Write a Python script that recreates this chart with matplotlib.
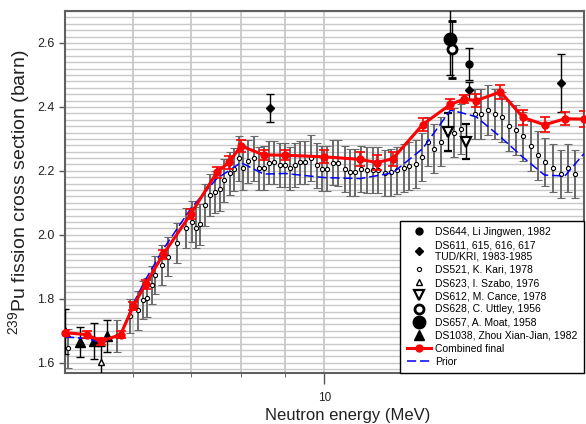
import matplotlib
matplotlib.use("Agg")
import matplotlib.pyplot as plt
from matplotlib.lines import Line2D
from matplotlib.ticker import FixedLocator, FixedFormatter, NullFormatter, MultipleLocator

plt.rcParams['font.family'] = ['Liberation Sans', 'DejaVu Sans']
plt.rcParams['mathtext.default'] = 'regular'

# ---- Combined final evaluation and prior ----
energy = [5.0, 5.3, 5.5, 5.8, 6.0, 6.2, 6.5, 7.0, 7.5, 7.75, 8.0, 8.5, 9.0,
          10.0, 11.0, 11.5, 12.0, 13.0, 14.0, 14.5, 15.0, 16.0, 17.0, 18.0, 19.0, 20.0]
combined = [1.694, 1.688, 1.667, 1.688, 1.777, 1.846, 1.939, 2.066, 2.195, 2.227, 2.278,
            2.250, 2.249, 2.244, 2.236, 2.226, 2.238, 2.345, 2.408, 2.424, 2.420, 2.447,
            2.367, 2.344, 2.363, 2.362]
combined_err = [0.010, 0.010, 0.010, 0.012, 0.012, 0.014, 0.015, 0.015, 0.017, 0.020, 0.020,
                0.016, 0.016, 0.020, 0.022, 0.023, 0.022, 0.020, 0.016, 0.012, 0.020, 0.021,
                0.023, 0.023, 0.020, 0.024]
prior = [1.681, 1.676, 1.663, 1.688, 1.785, 1.860, 1.955, 2.083, 2.176, 2.201, 2.226,
         2.190, 2.192, 2.179, 2.176, 2.185, 2.194, 2.270, 2.390, 2.380, 2.369, 2.306,
         2.242, 2.187, 2.184, 2.254]

# ---- DS521, K. Kari, 1978 ----
kari_e = [5.04, 5.74, 5.95, 6.07, 6.15, 6.22, 6.30, 6.36, 6.48, 6.59, 6.75, 6.90, 7.01,
          7.09, 7.17, 7.26, 7.36, 7.46, 7.56, 7.65, 7.76, 7.86, 7.96, 8.05, 8.16, 8.28,
          8.39, 8.50, 8.62, 8.73, 8.87, 8.99, 9.11, 9.25, 9.37, 9.50, 9.64, 9.79, 9.93,
          10.08, 10.24, 10.38, 10.55, 10.71, 10.86, 11.03, 11.20, 11.38, 11.55, 11.75,
          11.95, 12.15, 12.35, 12.54, 12.77, 12.97, 13.18, 13.40, 13.66, 14.14, 14.39,
          14.93, 15.17, 15.47, 15.77, 16.06, 16.37, 16.66, 17.00, 17.34, 17.68, 18.02,
          18.40, 18.79, 19.15, 19.55]
kari_v = [1.645, 1.685, 1.746, 1.764, 1.796, 1.804, 1.843, 1.874, 1.905, 1.932, 1.975,
          2.022, 2.041, 2.022, 2.033, 2.093, 2.124, 2.133, 2.142, 2.171, 2.192, 2.205,
          2.239, 2.209, 2.230, 2.239, 2.208, 2.209, 2.226, 2.227, 2.219, 2.219, 2.208,
          2.218, 2.227, 2.227, 2.240, 2.217, 2.207, 2.207, 2.226, 2.226, 2.207, 2.195,
          2.195, 2.205, 2.204, 2.204, 2.204, 2.194, 2.195, 2.202, 2.209, 2.215, 2.222,
          2.244, 2.291, 2.270, 2.291, 2.319, 2.331, 2.377, 2.379, 2.390, 2.379, 2.368,
          2.340, 2.329, 2.308, 2.278, 2.249, 2.228, 2.209, 2.190, 2.209, 2.190]
kari_err = [0.060, 0.050, 0.053, 0.060, 0.060, 0.060, 0.060, 0.060, 0.062, 0.062, 0.063,
            0.063, 0.064, 0.064, 0.064, 0.065, 0.066, 0.066, 0.066, 0.067, 0.068, 0.068,
            0.070, 0.068, 0.068, 0.070, 0.068, 0.068, 0.068, 0.068, 0.068, 0.068, 0.068,
            0.068, 0.068, 0.068, 0.072, 0.070, 0.070, 0.070, 0.070, 0.072, 0.072, 0.072,
            0.072, 0.072, 0.072, 0.072, 0.072, 0.072, 0.072, 0.074, 0.074, 0.074, 0.075,
            0.075, 0.076, 0.076, 0.076, 0.077, 0.077, 0.078, 0.078, 0.078, 0.078, 0.078,
            0.078, 0.078, 0.077, 0.077, 0.077, 0.076, 0.076, 0.076, 0.076, 0.076]

# ---- other data sets ----
li_e, li_v, li_err = [14.7], [2.533], [0.050]                      # DS644
tud_e, tud_v, tud_err = [8.65, 14.7, 18.8], [2.397, 2.452, 2.475], [0.044, 0.026, 0.090]  # DS611..617
szabo_e, szabo_v, szabo_err = [5.5], [1.601], [0.050]              # DS623
cance_e, cance_v, cance_err = [13.9, 14.6], [2.322, 2.291], [0.060, 0.055]  # DS612
uttley_e, uttley_v, uttley_err = [14.07], [2.580], [0.088]         # DS628
moat_e, moat_v, moat_err = [14.0], [2.611], [0.110]                # DS657
zhou_e, zhou_v, zhou_err = [5.0, 5.2, 5.4, 5.6], [1.697, 1.666, 1.668, 1.684], [0.070, 0.047, 0.057, 0.050]  # DS1038

legend_labels = ["DS644, Li Jingwen, 1982",
                 "DS611, 615, 616, 617\nTUD/KRI, 1983-1985",
                 "DS521, K. Kari, 1978",
                 "DS623, I. Szabo, 1976",
                 "DS612, M. Cance, 1978",
                 "DS628, C. Uttley, 1956",
                 "DS657, A. Moat, 1958",
                 "DS1038, Zhou Xian-Jian, 1982",
                 "Combined final",
                 "Prior"]

y_ticks = [1.6, 1.8, 2.0, 2.2, 2.4, 2.6]

fig = plt.figure(figsize=(5.86, 4.24), dpi=100)
ax = fig.add_axes([65 / 586, 51 / 424, 519 / 586, 362 / 424])
ax.set_xscale('log')
ax.set_xlim(5, 20)
ax.set_ylim(1.568, 2.70)

# grid
grid_col = '#c8c8c8'
ax.xaxis.set_major_locator(FixedLocator([10]))
ax.xaxis.set_major_formatter(FixedFormatter(['10']))
ax.xaxis.set_minor_locator(FixedLocator([6, 7, 8, 9]))
ax.xaxis.set_minor_formatter(NullFormatter())
ax.yaxis.set_major_locator(FixedLocator(y_ticks))
ax.yaxis.set_major_formatter(FixedFormatter([f"{t:.1f}" for t in y_ticks]))
ax.yaxis.set_minor_locator(MultipleLocator(0.02))
ax.grid(True, which='both', axis='x', color=grid_col, lw=1.3, zorder=0)
ax.grid(True, which='both', axis='y', color=grid_col, lw=1.0, zorder=0)
ax.set_axisbelow(True)

ax.tick_params(axis='y', which='major', labelsize=9, colors='#555555',
               labelcolor='#222222', length=4, width=1)
ax.tick_params(axis='y', which='minor', length=0)
ax.tick_params(axis='x', which='minor', length=3, colors='#555555')
ax.tick_params(axis='x', which='major', direction='out', length=8, width=1,
               colors='#555555', labelcolor='#222222', labelsize=8.5, pad=6)
for s in ax.spines.values():
    s.set_color('#606060')
    s.set_linewidth(1.5)


def black_caps(container):
    for cap in container[1]:
        cap.set_color('black')


# K. Kari points: grey bars, black caps, open circles
eb = ax.errorbar(kari_e, kari_v, yerr=kari_err, fmt='o', ms=3.0, mfc='white', mec='black',
                 mew=0.8, ecolor='#6a6a6a', elinewidth=1.4, capsize=3, capthick=1, zorder=3)
black_caps(eb)

bk = dict(ecolor='black', elinewidth=1, capsize=3, capthick=1, zorder=4, ls='none')
ax.errorbar(li_e, li_v, yerr=li_err, marker='o', ms=5, color='black', **bk)
ax.errorbar(tud_e, tud_v, yerr=tud_err, marker='D', ms=4.5, color='black', **bk)
ax.errorbar(szabo_e, szabo_v, yerr=szabo_err, marker='^', ms=4.5, mfc='white', mec='black',
            mew=1, **bk)
ax.errorbar(cance_e, cance_v, yerr=cance_err, marker='v', ms=6.5, mfc='white', mec='black',
            mew=1.6, **bk)
ax.errorbar(uttley_e, uttley_v, yerr=uttley_err, marker='o', ms=6.5, mfc='white', mec='black',
            mew=2, **bk)
ax.errorbar(moat_e, moat_v, yerr=moat_err, marker='o', ms=9, color='black', **bk)
ax.errorbar(zhou_e, zhou_v, yerr=zhou_err, marker='^', ms=7, color='black', **bk)

# prior
dash = (0, (6, 2.5))
ax.plot(energy, prior, color='blue', lw=1.1, ls=dash, zorder=5)

# combined final
cf = ax.errorbar(energy, combined, yerr=combined_err, fmt='-o', color='red', lw=2.2, ms=5,
                 ecolor='red', elinewidth=1.2, capsize=3.5, capthick=1.2, zorder=6)
cf[0].set_clip_on(False)

ax.set_xlabel('Neutron energy (MeV)', fontsize=12, color='#222222')
ax.xaxis.set_label_coords((347.7 - 65) / 519, -35 / 362)
ax.set_ylabel('$^{239}$Pu fission cross section (barn)', fontsize=14, color='#222222')
ax.yaxis.set_label_coords(-33 / 519, (373 - 192.5) / 362)

handles = [
    Line2D([], [], ls='none', marker='o', ms=5, color='black'),
    Line2D([], [], ls='none', marker='D', ms=4.5, color='black'),
    Line2D([], [], ls='none', marker='o', ms=3.0, mfc='white', mec='black', mew=0.8),
    Line2D([], [], ls='none', marker='^', ms=4.5, mfc='white', mec='black', mew=1),
    Line2D([], [], ls='none', marker='v', ms=6.5, mfc='white', mec='black', mew=1.6),
    Line2D([], [], ls='none', marker='o', ms=6.5, mfc='white', mec='black', mew=2),
    Line2D([], [], ls='none', marker='o', ms=9, color='black'),
    Line2D([], [], ls='none', marker='^', ms=7, color='black'),
    Line2D([], [], color='red', lw=2.2, marker='o', ms=5),
    Line2D([], [], color='blue', lw=1.1, ls=dash),
]
leg = ax.legend(handles, legend_labels, loc='lower right', borderaxespad=0, fontsize=7.5,
                frameon=True, fancybox=False, edgecolor='black', framealpha=1,
                handlelength=2.3, handletextpad=0.45, labelspacing=0.3, borderpad=0.6)
leg.get_frame().set_linewidth(1.0)
leg.set_zorder(10)

fig.savefig('out.png', dpi=100)
